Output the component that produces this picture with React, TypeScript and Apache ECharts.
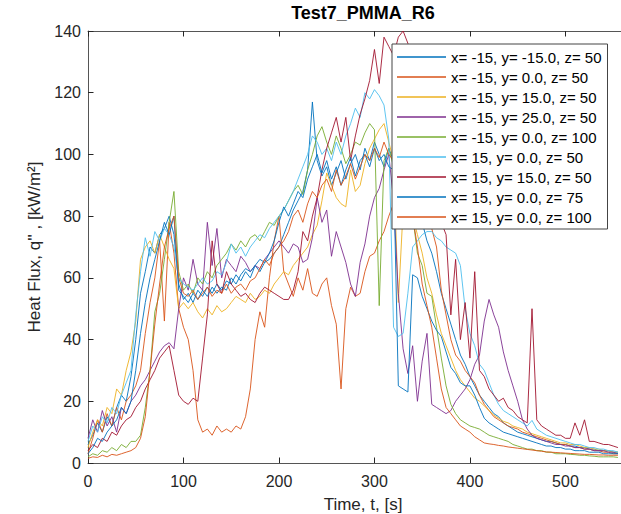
import React, { useEffect, useRef } from "react";
import * as echarts from "echarts";

const FONT = "'Liberation Sans', Arial, Helvetica, sans-serif";

const timeS = [
  0, 5, 10, 15, 20, 25, 30, 35, 40, 45,
  50, 55, 60, 65, 70, 75, 80, 85, 90, 95,
  100, 105, 110, 115, 120, 125, 130, 135, 140, 145,
  150, 155, 160, 165, 170, 175, 180, 185, 190, 195,
  200, 205, 210, 215, 220, 225, 230, 235, 240, 245,
  250, 255, 260, 265, 270, 275, 280, 285, 290, 295,
  300, 305, 310, 315, 320, 325, 330, 335, 340, 345,
  350, 355, 360, 365, 370, 375, 380, 385, 390, 395,
  400, 405, 410, 415, 420, 425, 430, 435, 440, 445,
  450, 455, 460, 465, 470, 475, 480, 485, 490, 495,
  500, 505, 510, 515, 520, 525, 530, 535, 540, 545,
  550, 555,
];

// x= -15, y= -15.0, z= 50
const fluxA = [
  6, 9, 13, 10, 15, 12, 18, 22, 20, 28,
  40, 55, 62, 70, 68, 74, 76, 80, 74, 58,
  53, 55, 52, 56, 54, 57, 55, 58, 56, 59,
  58, 61, 59, 62, 60, 64, 62, 65, 66, 68,
  70, 74, 78, 82, 85, 88, 95, 117, 98, 93,
  96, 90, 94, 98, 92, 97, 100, 95, 102, 98,
  104, 100, 96, 102, 98, 100, 95, 92, 90, 84,
  78, 72, 68, 62, 55, 50, 45, 40, 35, 32,
  28, 25, 22, 20, 18, 16, 15, 13, 12, 11,
  10, 9.5, 9, 8.5, 8, 7.5, 7, 7, 6.5, 6,
  6, 5.5, 5.5, 5, 5, 4.5, 4.5, 4, 4, 4,
  3.5, 3.5,
];
// x= -15, y= 0.0, z= 50
const fluxB = [
  3, 8, 14, 10, 16, 12, 18, 14, 20, 22,
  25, 30, 42, 52, 60, 72, 46, 78, 68, 50,
  44, 40, 30, 14, 10, 11, 9, 12, 10, 11,
  10, 12, 11, 15, 24, 40, 49, 44, 60, 72,
  80, 62, 58, 54, 60, 56, 63, 55, 54, 58,
  60, 51, 45, 24, 50, 57, 54, 55, 62, 67,
  68, 72, 75, 80, 84, 90, 95, 98, 100, 96,
  90, 82, 76, 70, 56, 48, 40, 35, 33, 30,
  28, 26, 22, 19, 17, 15, 14, 13, 12, 11.5,
  11, 10, 9.5, 9, 8.5, 8, 7.5, 7, 6.5, 6,
  6, 5.5, 5, 5, 4.5, 4.5, 4, 4, 3.5, 3.5,
  3, 3,
];
// x= -15, y= 15.0, z= 50
const fluxC = [
  5, 10, 14, 12, 18, 16, 24, 22, 30, 36,
  46, 66, 70, 72, 68, 74, 70, 66, 63, 50,
  52, 50, 52, 49, 47, 50, 48, 51, 49, 50,
  52, 54, 53, 52, 55, 53, 54, 56, 55, 58,
  60, 62, 61, 64, 66, 68, 70, 74, 77, 85,
  94, 90, 86, 84, 83, 95, 88, 90, 97, 102,
  105, 108, 110, 104, 98, 52, 82, 86, 80, 74,
  68, 60, 55, 48, 42, 38, 34, 30, 27, 25,
  23, 21, 20, 18.5, 17, 15.5, 14.5, 13.5, 13, 12,
  11.5, 11, 10, 9.5, 9, 8.5, 8, 7.5, 7, 6.5,
  6.5, 6, 6, 5.5, 5, 5, 4.5, 4.5, 4, 4,
  3.5, 3.5,
];
// x= -15, y= 25.0, z= 50
const fluxD = [
  8, 14, 10, 17, 12, 15, 10, 18, 16, 20,
  22, 25, 27, 30, 33, 36, 38, 39, 37, 50,
  60, 56, 66, 58, 56, 78, 64, 76, 60, 66,
  64, 62, 67, 65, 62, 64, 63, 66, 68, 70,
  72, 70, 68, 71, 70, 65, 66, 73, 86, 78,
  82, 67, 75, 70, 65, 58, 54, 65, 71, 80,
  86, 89, 95, 100, 85, 55, 37, 29, 38, 20,
  33, 42, 19, 18, 17, 16, 17, 20, 22, 24,
  27, 32, 35, 46, 53, 48, 44, 36, 30, 25,
  20, 14, 11, 9, 8, 7.5, 7, 6.5, 6, 6,
  5.5, 5.5, 5, 5, 4.5, 4.5, 4, 4, 4, 3.5,
  3.5, 3,
];
// x= -15, y= 0.0, z= 100
const fluxE = [
  2, 3, 2.5, 4, 3.5, 5, 4, 6, 5, 7,
  7, 9, 18, 30, 49, 55, 66, 78, 88, 62,
  56, 58, 55, 60, 58, 62, 60, 64, 66, 68,
  71, 69, 72, 70, 73, 74, 72, 75, 78, 77,
  80, 82, 85, 88, 90, 87, 95, 100, 106, 109,
  104, 100, 106, 102, 97, 100, 104, 103, 107, 110,
  108, 51, 98, 102, 96, 100, 95, 90, 80, 68,
  64, 55, 54, 44, 34, 25, 19, 16, 14, 13,
  12, 11.5, 11, 10, 9, 8.5, 8, 7.5, 7, 6,
  5.5, 5, 4.5, 4.5, 4, 4, 3.5, 3.5, 3, 3,
  3, 2.8, 2.7, 2.5, 2.5, 2.3, 2.2, 2, 2, 2,
  2, 1.8,
];
// x= 15, y= 0.0, z= 50
const fluxF = [
  7, 12, 10, 15, 13, 18, 16, 22, 26, 30,
  48, 62, 73, 67, 75, 72, 76, 74, 70, 60,
  58, 57, 56, 58, 60, 58, 59, 62, 61, 65,
  71, 68, 70, 67, 70, 72, 74, 73, 76, 78,
  80, 82, 85, 88, 92, 96, 100, 106, 104, 100,
  102, 98, 104, 100, 106, 110, 115, 112, 120, 118,
  121, 119, 116, 105, 44, 41, 42, 55, 70, 72,
  74, 75, 75, 73, 72, 70, 69, 68, 64, 50,
  42, 38, 32, 30, 26, 22, 19, 17, 16, 15,
  14, 13, 12, 13.8, 11, 10, 9, 8.5, 8, 7.5,
  7, 6.5, 6, 6, 5.5, 5, 5, 4.5, 4.5, 4,
  4, 3.5,
];
// x= 15, y= 15.0, z= 50
const fluxG = [
  4, 6, 5, 8, 7, 10, 9, 12, 14, 15,
  18, 20, 24, 27, 30, 34, 36, 38, 30, 22,
  20, 19, 21, 20, 34, 48, 72, 58, 55, 62,
  58, 56, 54, 55, 53, 52, 55, 57, 56, 55,
  54, 53, 53, 56, 62, 75, 72, 80, 86, 95,
  102, 107, 112, 104, 112, 98, 106, 113, 118, 124,
  134, 123, 138, 135, 132, 138, 140, 136, 130, 125,
  115, 105, 90, 82, 78, 74, 48, 66, 40, 52,
  34, 62, 30, 28, 24, 22, 20, 21, 18, 17,
  15, 14, 13, 50, 14, 12, 11, 10, 9, 9,
  8, 8, 13, 9, 14, 7, 7, 6.5, 6, 6,
  5.5, 5,
];
// x= 15, y= 0.0, z= 75
const fluxH = [
  3, 5, 8, 7, 10, 12, 14, 18, 16, 20,
  30, 42, 52, 60, 66, 72, 78, 74, 80, 56,
  54, 52, 55, 53, 56, 54, 57, 55, 57, 56,
  60, 58, 61, 63, 62, 64, 66, 65, 68, 72,
  78, 83, 80, 84, 88, 86, 92, 96, 100, 94,
  98, 92, 96, 90, 95, 99, 93, 98, 100, 96,
  102, 98, 100, 96, 95, 25, 24, 23, 61, 60,
  54, 50, 46, 43, 41, 36, 31, 29, 26, 25,
  25, 22, 18, 14.5, 13, 12, 11, 10, 9.5, 9,
  8.5, 8, 7.5, 7, 6.5, 6, 5.5, 5.5, 5, 5,
  4.5, 4.5, 4, 4, 4, 3.5, 3.5, 3.5, 3, 3,
  3, 3,
];
// x= 15, y= 0.0, z= 100
const fluxI = [
  1.5, 2, 1.8, 2.5, 2, 2.8, 2.5, 3, 3.5, 4,
  5, 8, 15, 30, 45, 58, 70, 76, 80, 60,
  55, 54, 56, 53, 55, 57, 54, 56, 55, 58,
  55, 57, 58, 56, 59, 60, 63, 66, 64, 68,
  70, 72, 75, 80, 82, 78, 84, 88, 86, 90,
  92, 88, 95, 90, 93, 97, 92, 96, 100, 98,
  102, 99, 104, 100, 98, 95, 92, 88, 80, 70,
  58, 51, 44, 34, 24, 18, 16, 14, 12, 11,
  10, 8.5, 7.5, 6.5, 6.2, 6, 5.7, 5.5, 5.2, 5,
  4.8, 4.6, 4.4, 4.2, 4, 3.8, 3.6, 3.5, 3.4, 3.3,
  3.2, 3.1, 3, 2.9, 2.8, 2.8, 2.7, 2.6, 2.6, 2.5,
  2.5, 2.5,
];

const seriesNames = [
  "x= -15, y= -15.0, z= 50",
  "x= -15, y= 0.0, z= 50",
  "x= -15, y= 15.0, z= 50",
  "x= -15, y= 25.0, z= 50",
  "x= -15, y= 0.0, z= 100",
  "x= 15, y= 0.0, z= 50",
  "x= 15, y= 15.0, z= 50",
  "x= 15, y= 0.0, z= 75",
  "x= 15, y= 0.0, z= 100",
];
const seriesValues = [fluxA, fluxB, fluxC, fluxD, fluxE, fluxF, fluxG, fluxH, fluxI];
const seriesColors = [
  "#0072BD", "#D95319", "#EDB120", "#7E2F8E", "#77AC30",
  "#4DBEEE", "#A2142F", "#0072BD", "#D95319",
];

const AXIS_COLOR = "#555555";
const TEXT_COLOR = "#262626";

export default function App() {
  const ref = useRef<HTMLDivElement>(null);

  useEffect(() => {
    if (!ref.current) return;
    const chart = echarts.init(ref.current, null, { renderer: "svg" });
    const axisCommon = {
      type: "value" as const,
      min: 0,
      max: 576,
      interval: 100,
      splitLine: { show: false },
      axisLine: { show: true, lineStyle: { color: AXIS_COLOR, width: 1 } },
      axisTick: { show: true, inside: true, length: 5.5, lineStyle: { color: TEXT_COLOR, width: 1 } },
    };
    chart.setOption({
      animation: false,
      backgroundColor: "#ffffff",
      textStyle: { fontFamily: FONT },
      title: {
        text: "Test7_PMMA_R6",
        left: 363,
        top: 4,
        textAlign: "center",
        padding: 0,
        textStyle: { fontFamily: FONT, fontSize: 18, fontWeight: "bold", color: "#000000" },
      },
      grid: {
        left: 88,
        right: 12,
        top: 31,
        bottom: 51,
        containLabel: false,
        outerBoundsMode: "none",
      },
      legend: {
        orient: "vertical",
        left: 392,
        top: 44,
        padding: [5, 6, 4, 5],
        icon: "rect",
        itemWidth: 49,
        itemHeight: 1.3,
        itemGap: 4,
        backgroundColor: "#ffffff",
        borderColor: "#444444",
        borderWidth: 1,
        borderRadius: 0,
        textStyle: { fontFamily: FONT, fontSize: 15, color: "#000000", lineHeight: 16 },
        data: seriesNames,
      },
      xAxis: [
        {
          ...axisCommon,
          position: "bottom",
          axisLabel: { fontFamily: FONT, fontSize: 16, color: TEXT_COLOR, margin: 10, showMaxLabel: false },
          name: "Time, t, [s]",
          nameLocation: "middle",
          nameGap: 33,
          nameTextStyle: { fontFamily: FONT, fontSize: 17, color: TEXT_COLOR },
        },
        {
          ...axisCommon,
          position: "top",
          axisLabel: { show: false },
        },
      ],
      yAxis: {
        type: "value",
        min: 0,
        max: 140,
        interval: 20,
        splitLine: { show: false },
        axisLine: { show: true, lineStyle: { color: AXIS_COLOR, width: 1 } },
        axisTick: { show: true, inside: true, length: 5.5, lineStyle: { color: TEXT_COLOR, width: 1 } },
        axisLabel: { fontFamily: FONT, fontSize: 16, color: TEXT_COLOR, margin: 7 },
        name: "Heat Flux, q'' , [kW/m²]",
        nameLocation: "middle",
        nameGap: 41,
        nameTextStyle: { fontFamily: FONT, fontSize: 17, color: TEXT_COLOR },
      },
      series: seriesValues.map((vals, i) => ({
        type: "line",
        name: seriesNames[i],
        xAxisIndex: 0,
        yAxisIndex: 0,
        data: timeS.map((t, k) => [t, vals[k]]),
        symbol: "none",
        showSymbol: false,
        color: seriesColors[i],
        itemStyle: { color: seriesColors[i] },
        lineStyle: { width: 0.9, color: seriesColors[i] },
        emphasis: { disabled: true },
        clip: true,
      })),
    });
    return () => chart.dispose();
  }, []);

  return (
    <div
      style={{
        position: "fixed",
        left: 0,
        top: 0,
        width: 621,
        height: 514,
        overflow: "hidden",
        background: "#ffffff",
      }}
    >
      <div ref={ref} style={{ width: 650, height: 514 }} />
    </div>
  );
}
